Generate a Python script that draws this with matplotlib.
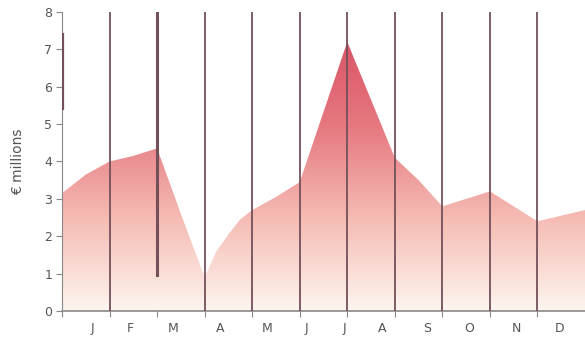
import numpy as np
import matplotlib.pyplot as plt
from matplotlib.colors import LinearSegmentedColormap

# month boundaries at integers, value read at each point
x_pts = [0, 0.25, 0.5, 1, 1.5, 2, 2.5, 3, 3.25, 3.5, 3.75, 4, 4.5, 5, 6, 7, 7.5, 8, 8.5, 9, 9.5, 10, 10.5, 11]
y_pts = [3.15, 3.4, 3.65, 4.0, 4.15, 4.35, 2.6, 0.9, 1.6, 2.05, 2.45, 2.7, 3.05, 3.45, 7.2, 4.1, 3.5, 2.8, 3.0, 3.2, 2.8, 2.4, 2.55, 2.7]
months = ['J', 'F', 'M', 'A', 'M', 'J', 'J', 'A', 'S', 'O', 'N', 'D']
month_pos = [0.65, 1.43, 2.33, 3.32, 4.31, 5.15, 5.95, 6.74, 7.67, 8.57, 9.56, 10.46]
yticks = [0, 1, 2, 3, 4, 5, 6, 7, 8]

fig = plt.figure(figsize=(5.85, 3.39), dpi=100)
ax = fig.add_axes([0.106, 0.0826, 0.894, 0.882])

cmap = LinearSegmentedColormap.from_list('fade', ['#fdf5ef', '#f5bcb4', '#e67880', '#d95264'])
xmax = 11
poly = ax.fill_between(x_pts, 0, y_pts, color='none', lw=0)
grad = np.linspace(0, 1, 256).reshape(-1, 1)
img = ax.imshow(grad, cmap=cmap, origin='lower', aspect='auto',
                extent=[0, xmax, 0, 7.4], vmin=0, vmax=1, zorder=1)
img.set_clip_path(poly.get_paths()[0], transform=ax.transData)

line_col = '#74505a'
for i in range(1, 11):
    lw = 2.2 if i == 2 else 1.3
    ybot = 0.95 if i == 2 else 0
    ax.plot([i, i], [ybot, 8], color=line_col, lw=lw, zorder=3)
ax.plot([0.03, 0.03], [5.4, 7.4], color=line_col, lw=1.6, zorder=3)

ax.set_xlim(0, xmax)
ax.set_ylim(0, 8)
ax.set_yticks(yticks)
ax.set_xticks(range(0, 11))
ax.set_xticklabels([])
ax.set_xticks(month_pos, minor=True)
ax.set_xticklabels(months, minor=True)
ax.tick_params(axis='x', which='minor', length=0, pad=8, labelsize=9, labelcolor='#555555')
ax.tick_params(axis='x', which='major', length=4, color='#888888', direction='out')
ax.tick_params(axis='y', length=4, color='#888888', labelsize=9, labelcolor='#555555', pad=3)

for s in ['top', 'right']:
    ax.spines[s].set_visible(False)
ax.spines['left'].set_color('#888888')
ax.spines['bottom'].set_color('#888888')
ax.spines['bottom'].set_linewidth(1.2)

ax.set_ylabel('€ millions', fontsize=10, color='#555555', labelpad=14)

fig.savefig('out.png', dpi=100, facecolor='white')
